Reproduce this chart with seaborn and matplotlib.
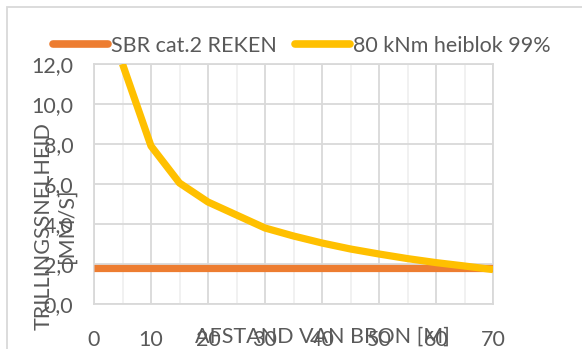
import matplotlib
matplotlib.use("Agg")
import matplotlib.pyplot as plt
from matplotlib.lines import Line2D
from matplotlib.patches import Rectangle
from matplotlib.ticker import MultipleLocator
import seaborn as sns
import pandas as pd
import numpy as np

# ---- data ----
distance = [0, 5, 10, 15, 20, 25, 30, 35, 40, 45, 50, 55, 60, 65, 70]
sbr_cat2 = [1.8] * 15
heiblok_80 = [np.nan, 12.0, 7.9, 6.05, 5.1, 4.45, 3.8, 3.4, 3.05, 2.75, 2.5, 2.27, 2.07, 1.9, 1.72]
series_names = ["SBR cat.2 REKEN", "80 kNm heiblok 99%"]
x_ticks = [0, 10, 20, 30, 40, 50, 60, 70]
y_ticks = [0, 2, 4, 6, 8, 10, 12]
y_tick_labels = ["0,0", "2,0", "4,0", "6,0", "8,0", "10,0", "12,0"]
x_label = "AFSTAND VAN BRON [M]"
y_label = "TRILLINGSSNELHEID\n[MM/S]"

colors = {"SBR cat.2 REKEN": "#ED7D31", "80 kNm heiblok 99%": "#FFC000"}
text_color = "#595959"
FS = 15.5

sns.set_theme(style="white")
plt.rcParams["font.family"] = ["Lato", "DejaVu Sans"]

df = pd.DataFrame({"afstand": distance,
                   series_names[0]: sbr_cat2,
                   series_names[1]: heiblok_80})
long = df.melt(id_vars="afstand", var_name="serie", value_name="v").dropna()

W, H = 582, 349
fig = plt.figure(figsize=(W / 100, H / 100), dpi=100)
ax = fig.add_axes([94 / W, 1 - 304 / H, 399 / W, 240 / H])

sns.lineplot(data=long, x="afstand", y="v", hue="serie", palette=colors,
             hue_order=series_names, ax=ax, linewidth=5.2, legend=False,
             solid_capstyle="butt", solid_joinstyle="round", zorder=3)

ax.set_xlim(0, 70)
ax.set_ylim(0, 12)
ax.set_xticks(x_ticks)
ax.set_xticklabels([str(t) for t in x_ticks])
ax.set_yticks(y_ticks)
ax.set_yticklabels(y_tick_labels)
ax.xaxis.set_minor_locator(MultipleLocator(5))
ax.grid(which="major", axis="both", color="#D9D9D9", linewidth=1.3, zorder=0)
ax.grid(which="minor", axis="x", color="#F0F0F0", linewidth=1.3, zorder=0)
ax.set_axisbelow(True)
for s in ax.spines.values():
    s.set_color("#D9D9D9")
    s.set_linewidth(1.3)
ax.tick_params(axis="both", which="both", length=0, labelsize=FS, colors=text_color)
ax.tick_params(axis="y", pad=15)
ax.tick_params(axis="x", pad=19)
ax.set_xlabel("")
ax.set_ylabel("")

fig.text(322.5 / W, 1 - 337 / H, x_label, ha="center", va="center",
         fontsize=FS, color=text_color)
fig.text(55 / W, 1 - 226 / H, y_label, ha="center", va="center", rotation=90,
         multialignment="center", fontsize=FS, color=text_color, linespacing=1.2)

handles = [Line2D([], [], color=colors[n], linewidth=5.5, solid_capstyle="round")
           for n in series_names]
leg = fig.legend(handles, series_names, loc="center",
                 bbox_to_anchor=(301.5 / W, 1 - 46 / H), ncol=2, frameon=False,
                 fontsize=FS, handlelength=2.56, handletextpad=0.14,
                 columnspacing=0.84, borderaxespad=0, borderpad=0)
for t in leg.get_texts():
    t.set_color(text_color)

fig.patches.append(Rectangle((7 / W, -0.1), 1.2, 1 - 7 / H + 0.1,
                             transform=fig.transFigure, fill=False,
                             edgecolor="#D9D9D9", linewidth=1.3))

fig.savefig("out.png", dpi=100)
